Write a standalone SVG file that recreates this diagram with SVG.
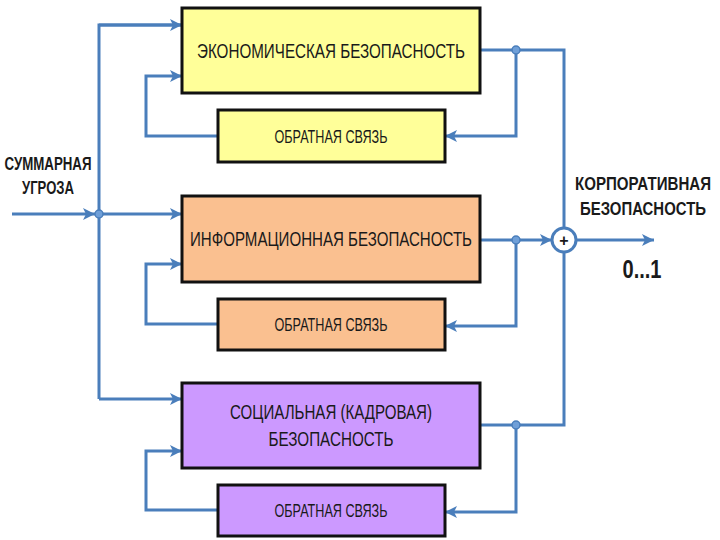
<svg xmlns="http://www.w3.org/2000/svg" width="720" height="540" viewBox="0 0 720 540">
<defs>
<marker id="ah" markerUnits="userSpaceOnUse" markerWidth="14" markerHeight="14" refX="12" refY="6" orient="auto">
<path d="M0,0 L12,6 L0,12 L3,6 Z" fill="#4A7EBB"/>
</marker>
<style>
.box{stroke:#111;stroke-width:3}
.y{fill:#FFFF99}.o{fill:#FAC090}.p{fill:#CC99FF}
.t{font-family:"Liberation Sans",Arial,sans-serif;font-size:21px;fill:#1a1a1a}
.f{font-family:"Liberation Sans",Arial,sans-serif;font-size:19px;fill:#1a1a1a}
.b{font-family:"Liberation Sans",Arial,sans-serif;font-weight:bold;fill:#1a1a1a}
.c{fill:none;stroke:#4A7EBB;stroke-width:3}
.a{marker-end:url(#ah)}
.n{fill:#6F9FD8;stroke:#4A7EBB;stroke-width:1.5}
</style>
</defs>
<rect width="720" height="540" fill="#fff"/>
<g id="connectors">
<path class="c a" d="M12,214 H95"/>
<path class="c" d="M182,25 H99 V399"/>
<path class="c a" d="M99,25 H182"/>
<path class="c a" d="M99,214 H182"/>
<path class="c a" d="M99,399 H182"/>
<path class="c a" d="M218,136 H146 V76 H182"/>
<path class="c a" d="M218,324 H146 V264 H182"/>
<path class="c a" d="M218,510 H146 V451 H182"/>
<path class="c" d="M480,50 H564 V228"/>
<path class="c a" d="M516,50 V136 H445"/>
<path class="c a" d="M480,240 H552"/>
<path class="c a" d="M516,240 V326 H445"/>
<path class="c" d="M480,425 H564 V252"/>
<path class="c a" d="M516,425 V512 H445"/>
<path class="c a" d="M576,240 H654"/>
<circle cx="99" cy="214" r="4" class="n"/>
<circle cx="516" cy="50" r="4" class="n"/>
<circle cx="516" cy="240" r="4" class="n"/>
<circle cx="516" cy="425" r="4" class="n"/>
</g>
<g id="sum">
<circle cx="564" cy="240" r="12" fill="#fff" stroke="#4A7EBB" stroke-width="3"/>
<text x="564" y="245.5" text-anchor="middle" class="b" font-size="16">+</text>
</g>
<g id="input-label">
<text x="48" y="170" text-anchor="middle" class="b" font-size="18" textLength="87" lengthAdjust="spacingAndGlyphs">СУММАРНАЯ</text>
<text x="48" y="194" text-anchor="middle" class="b" font-size="18" textLength="52" lengthAdjust="spacingAndGlyphs">УГРОЗА</text>
</g>
<g id="output-label">
<text x="643" y="190" text-anchor="middle" class="b" font-size="18" textLength="136" lengthAdjust="spacingAndGlyphs">КОРПОРАТИВНАЯ</text>
<text x="643" y="215" text-anchor="middle" class="b" font-size="18" textLength="126" lengthAdjust="spacingAndGlyphs">БЕЗОПАСНОСТЬ</text>
<text x="642" y="278" text-anchor="middle" class="b" font-size="25" textLength="39" lengthAdjust="spacingAndGlyphs">0...1</text>
</g>
<g id="econ">
<rect x="182" y="8" width="298" height="85" class="box y"/>
<text x="331" y="58" text-anchor="middle" class="t" textLength="268" lengthAdjust="spacingAndGlyphs">ЭКОНОМИЧЕСКАЯ БЕЗОПАСНОСТЬ</text>
</g>
<g id="econ-fb">
<rect x="218" y="110" width="227" height="52" class="box y"/>
<text x="331" y="143" text-anchor="middle" class="f" textLength="113" lengthAdjust="spacingAndGlyphs">ОБРАТНАЯ СВЯЗЬ</text>
</g>
<g id="info">
<rect x="182" y="196" width="298" height="86" class="box o"/>
<text x="331" y="246" text-anchor="middle" class="t" textLength="282" lengthAdjust="spacingAndGlyphs">ИНФОРМАЦИОННАЯ БЕЗОПАСНОСТЬ</text>
</g>
<g id="info-fb">
<rect x="218" y="299" width="227" height="51" class="box o"/>
<text x="331" y="331" text-anchor="middle" class="f" textLength="113" lengthAdjust="spacingAndGlyphs">ОБРАТНАЯ СВЯЗЬ</text>
</g>
<g id="social">
<rect x="182" y="383" width="298" height="85" class="box p"/>
<text x="331" y="419" text-anchor="middle" class="t" textLength="202" lengthAdjust="spacingAndGlyphs">СОЦИАЛЬНАЯ (КАДРОВАЯ)</text>
<text x="331" y="446" text-anchor="middle" class="t" textLength="125" lengthAdjust="spacingAndGlyphs">БЕЗОПАСНОСТЬ</text>
</g>
<g id="social-fb">
<rect x="218" y="485" width="227" height="51" class="box p"/>
<text x="331" y="517" text-anchor="middle" class="f" textLength="113" lengthAdjust="spacingAndGlyphs">ОБРАТНАЯ СВЯЗЬ</text>
</g>
</svg>
